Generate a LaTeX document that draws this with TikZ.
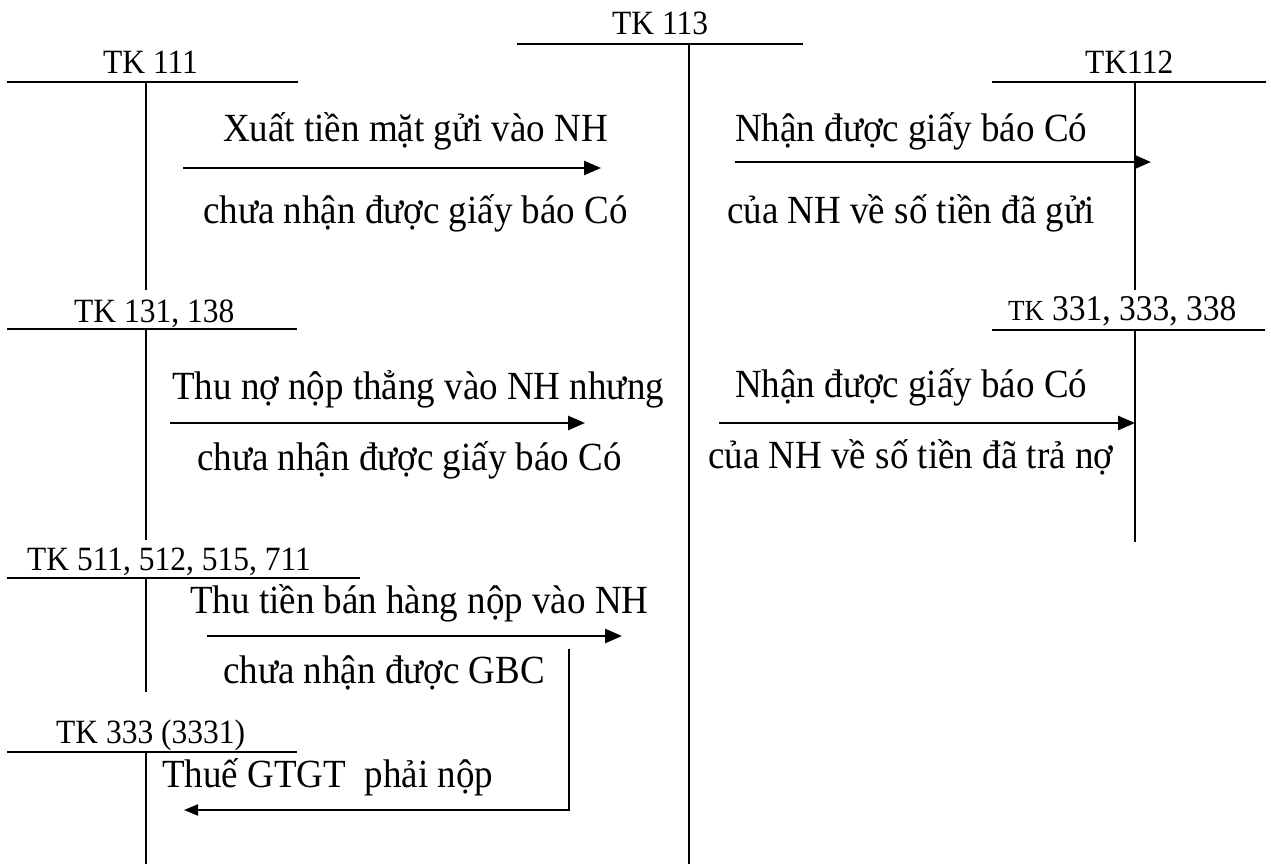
\documentclass[tikz,border=0pt]{standalone}
\usepackage{fontspec}
\setmainfont{Liberation Serif}
\usetikzlibrary{arrows.meta}
\newcommand{\tall}[1]{\scalebox{1}[1.08]{#1}}
\begin{document}
\begin{tikzpicture}[x=1pt,y=-1pt,
  acct/.style={line width=2.6pt},
  flow/.style={line width=2.6pt,-{Triangle[length=17pt,width=14pt]}},
  backflow/.style={line width=2pt,-{Triangle[length=14pt,width=11pt]}},
  note/.style={anchor=base west,inner sep=0pt,font=\fontsize{37}{44}\selectfont},
  acctname/.style={anchor=base west,inner sep=0pt,font=\fontsize{31.5}{38}\selectfont}]
\useasboundingbox (0,0) rectangle (1271,864);

% ---- T-accounts: name, top bar, stem ----
\node[acctname] (tk113) at (612,35) {\tall{TK 113}};
\draw[acct] (517,44) -- (803,44);
\draw[acct] (689,44) -- (689,864);

\node[acctname] (tk111) at (103,74) {\tall{TK 111}};
\draw[acct] (7,82) -- (298,82);
\draw[acct] (146,82) -- (146,290);

\node[acctname] (tk112) at (1085,74) {\tall{TK112}};
\draw[acct] (992,82) -- (1266,82);
\draw[acct] (1135,82) -- (1135,290);

\node[acctname] (tk131) at (74,322) {\tall{TK 131, 138}};
\draw[acct] (7,329) -- (297,329);
\draw[acct] (146,329) -- (146,540);

\node[acctname] (tk331) at (1008,320) {\tall{{\fontsize{27}{32}\selectfont TK} {\fontsize{33.5}{40}\selectfont 331, 333, 338}}};
\draw[acct] (992,330) -- (1265,330);
\draw[acct] (1135,330) -- (1135,542);

\node[acctname] (tk511) at (27,570) {\tall{TK 511, 512, 515, 711}};
\draw[acct] (7,578) -- (360,578);
\draw[acct] (146,578) -- (146,692);

\node[acctname] (tk333) at (56,743) {\tall{TK 333 (3331)}};
\draw[acct] (7,752) -- (297,752);
\draw[acct] (146,752) -- (146,864);

% ---- entry descriptions ----
\node[note] (t1) at (223,142) {\tall{Xuất tiền mặt gửi vào NH}};
\node[note] (t2) at (203,223) {\tall{chưa nhận được giấy báo Có}};
\node[note] (t3) at (735,142) {\tall{Nhận được giấy báo Có}};
\node[note] (t4) at (727,223) {\tall{của NH về số tiền đã gửi}};
\node[note] (t5) at (172,399) {\tall{Thu nợ nộp thẳng vào NH nhưng}};
\node[note] (t6) at (197,470) {\tall{chưa nhận được giấy báo Có}};
\node[note] (t7) at (735,397) {\tall{Nhận được giấy báo Có}};
\node[note] (t8) at (708,468) {\tall{của NH về số tiền đã trả nợ}};
\node[note] (t9) at (190,613) {\tall{Thu tiền bán hàng nộp vào NH}};
\node[note] (t10) at (223,683) {\tall{chưa nhận được GBC}};
\node[note] (t11) at (162,787) {\tall{Thuế GTGT\ \ phải nộp}};

% ---- flows ----
\coordinate (a1s) at (183,168);  \coordinate (a1e) at (601,168);
\coordinate (a2s) at (735,162);  \coordinate (a2e) at (1151,162);
\coordinate (a3s) at (170,423);  \coordinate (a3e) at (585,423);
\coordinate (a4s) at (719,423);  \coordinate (a4e) at (1135,423);
\coordinate (a5s) at (207,636);  \coordinate (a5e) at (622,636);
\coordinate (vs) at (569,649);   \coordinate (vc) at (569,810);
\coordinate (ve) at (184,810);

\draw[flow] (a1s) -- (a1e);
\draw[flow] (a2s) -- (a2e);
\draw[flow] (a3s) -- (a3e);
\draw[flow] (a4s) -- (a4e);
\draw[flow] (a5s) -- (a5e);
\draw[backflow] (vs) -- (vc) -- (ve);
\end{tikzpicture}
\end{document}
